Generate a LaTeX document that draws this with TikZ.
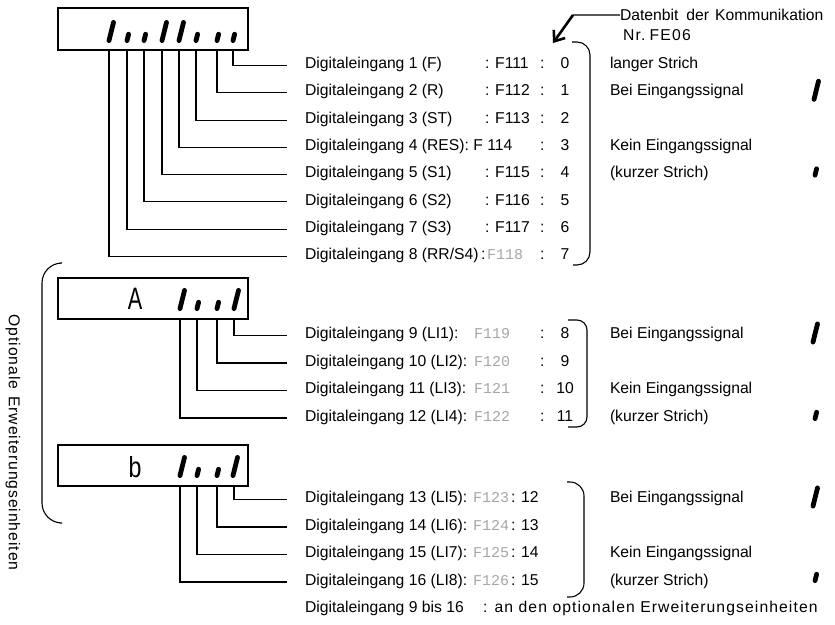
\documentclass[tikz,border=0pt]{standalone}
\usepackage{fontspec}
\setmainfont{Liberation Sans}
\newfontfamily\segfont{Liberation Mono}
\usetikzlibrary{arrows.meta}
\begin{document}
\begin{tikzpicture}[x=1pt,y=-1pt,
  every node/.style={inner sep=0pt, outer sep=0pt},
  txt/.style={anchor=base west, font=\fontsize{15.7}{18}\selectfont},
  num/.style={anchor=base, font=\fontsize{15.7}{18}\selectfont},
  code/.style={anchor=base west, font=\segfont\fontsize{15}{18}\selectfont, text=gray!70},
  dispbox/.style={draw, line width=1.2pt, minimum width=190pt, minimum height=42pt, anchor=north west},
  lead/.style={line width=1.1pt},
  bar/.style={line width=4.8pt, line cap=round},
  brk/.style={line width=1.1pt},
  tallbar/.pic={\draw[bar] (0,-2.4) -- (4.5,-20.6);},
  shortbar/.pic={\draw[bar] (0,-2.4) -- (1.6,-8.8);},
]
\useasboundingbox (0,0) rectangle (835,624);

% ---------------- main display ----------------
\node[dispbox] (disp) at (58,8) {};
\foreach \x in {109,162,179} {\pic at (\x,43) {tallbar};}
\foreach \x in {127,144,196,217,233} {\pic at (\x,43) {shortbar};}

\foreach \i/\yb/\lx/\lab/\cd/\n in {
 1/68.6/233/{Digitaleingang 1 (F)}/{: F111}/0,
 2/95.9/217/{Digitaleingang 2 (R)}/{: F112}/1,
 3/123.2/196/{Digitaleingang 3 (ST)}/{: F113}/2,
 5/177.7/162/{Digitaleingang 5 (S1)}/{: F115}/4,
 6/205/144/{Digitaleingang 6 (S2)}/{: F116}/5,
 7/232.3/127/{Digitaleingang 7 (S3)}/{: F117}/6}{
  \node[txt] (l\i) at (305,\yb) {\lab};
  \node[txt] (c\i) at (485,\yb) {\cd};
  \node[txt] (k\i) at (540,\yb) {:};
  \node[num] (n\i) at (565,\yb) {\n};
  \coordinate (s\i) at (\lx,50);
  \coordinate (e\i) at (287,\yb-3.1);
  \draw[lead] (s\i) |- (e\i);
}
\node[txt] (l4) at (305,150.5) {Digitaleingang 4 (RES): F 114};
\node[txt] (k4) at (540,150.5) {:};
\node[num] (n4) at (565,150.5) {3};
\coordinate (s4) at (179,50);
\coordinate (e4) at (287,147.4);
\draw[lead] (s4) |- (e4);

\node[txt] (l8) at (305,259.6) {Digitaleingang 8 (RR/S4)\,:};
\node[code] (c8) at ([xshift=1.5pt]l8.base east) {F118};
\node[txt] (k8) at (540,259.6) {:};
\node[num] (n8) at (565,259.6) {7};
\coordinate (s8) at (109,50);
\coordinate (e8) at (287,256.5);
\draw[lead] (s8) |- (e8);

% right column main
\node[txt] (r1) at (610,68.6) {langer Strich};
\node[txt] (r2) at (610,95.9) {Bei Eingangssignal};
\node[txt] (r4) at (610,150.5) {Kein Eingangssignal};
\node[txt] (r5) at (610,177.7) {(kurzer Strich)};
\pic at (814,101.8) {tallbar};
\pic at (815,177.6) {shortbar};
\draw[brk, rounded corners=13pt] (572,42) -| (590,150) |- (573,265);

% header arrow
\node[txt] (dt) at (620,20.6) {Datenbit\hspace{8pt}der\hspace{6pt}Kommunikation};
\node[txt] (nr) at (623,40.6) {\addfontfeatures{LetterSpace=8}Nr.\hspace{4pt}FE06};
\coordinate (ak) at (573,15);
\coordinate (at) at (553,43);
\draw[lead] (dt.west) -- (ak);
\draw[line width=2.6pt, -{Straight Barb[length=9pt,width=14pt]}] (ak) -- (at);

% ---------------- option A ----------------
\node[dispbox, minimum height=41pt] (dispA) at (58,278) {};
\node[font=\fontsize{31}{31}\selectfont] (ga) at (135,298.5) {\scalebox{0.7}[1]{A}};
\foreach \x in {180,234} {\pic at (\x,311) {tallbar};}
\foreach \x in {197,217} {\pic at (\x,311) {shortbar};}
\foreach \i/\yb/\lx/\lab/\cd/\n in {
 9/338.6/234/{Digitaleingang 9 (LI1):}/F119/8,
 10/366.1/217/{Digitaleingang 10 (LI2):}/F120/9,
 11/393.6/197/{Digitaleingang 11 (LI3):}/F121/10,
 12/421.1/180/{Digitaleingang 12 (LI4):}/F122/11}{
  \node[txt] (l\i) at (305,\yb) {\lab};
  \node[code] (c\i) at (474,\yb) {\cd};
  \node[txt] (k\i) at (540,\yb) {:};
  \node[num] (n\i) at (565,\yb) {\n};
  \coordinate (s\i) at (\lx,319);
  \coordinate (e\i) at (287,\yb-3.1);
  \draw[lead] (s\i) |- (e\i);
}
\node[txt] (r9) at (610,338.6) {Bei Eingangssignal};
\node[txt] (r11) at (610,393.6) {Kein Eingangssignal};
\node[txt] (r12) at (610,421.1) {(kurzer Strich)};
\pic at (813,344.5) {tallbar};
\pic at (815,421) {shortbar};
\draw[brk, rounded corners=10pt] (568,320) -| (587,370) |- (568,427);

% ---------------- option B ----------------
\node[dispbox, minimum height=41pt] (dispB) at (58,445) {};
\node[font=\fontsize{29}{29}\selectfont] (gb) at (135,467.5) {\scalebox{0.8}[1]{b}};
\foreach \x in {180,233} {\pic at (\x,478) {tallbar};}
\foreach \x in {197,217} {\pic at (\x,478) {shortbar};}
\foreach \i/\yb/\lx/\lab/\cd/\n in {
 13/502.6/234/{Digitaleingang 13 (LI5):}/F123/12,
 14/530.1/217/{Digitaleingang 14 (LI6):}/F124/13,
 15/557.6/197/{Digitaleingang 15 (LI7):}/F125/14,
 16/585.1/180/{Digitaleingang 16 (LI8):}/F126/15}{
  \node[txt] (l\i) at (305,\yb) {\lab};
  \node[code] (c\i) at (473,\yb) {\cd};
  \node[txt] (n\i) at (511,\yb) {: \n};
  \coordinate (s\i) at (\lx,486);
  \coordinate (e\i) at (287,\yb-3.1);
  \draw[lead] (s\i) |- (e\i);
}
\node[txt] (r13) at (610,502.6) {Bei Eingangssignal};
\node[txt] (r15) at (610,557.6) {Kein Eingangssignal};
\node[txt] (r16) at (610,585.1) {(kurzer Strich)};
\pic at (813,508.5) {tallbar};
\pic at (815,583) {shortbar};
\draw[brk, rounded corners=14pt] (567,482) -| (584,540) |- (567,597);

% bottom note
\node[txt] (bt1) at (305,612.6) {Digitaleingang 9 bis 16};
\node[txt] (bt2) at (483,612.6) {\addfontfeatures{LetterSpace=7}: an den optionalen Erweiterungseinheiten};

% left bracket and vertical label
\draw[brk, rounded corners=20pt] (60,263) -| (42,390) |- (60,523);
\node[font=\fontsize{15.7}{18}\selectfont\addfontfeatures{LetterSpace=6}, rotate=-90] (opt) at (13,442.5) {Optionale\hspace{7pt}Erweiterungseinheiten};
\end{tikzpicture}
\end{document}
